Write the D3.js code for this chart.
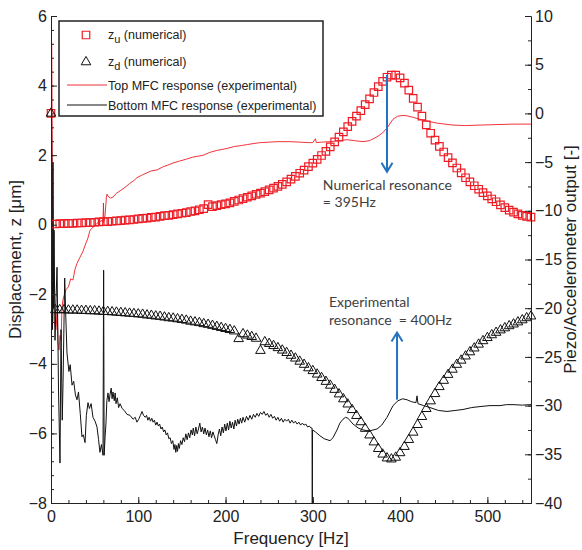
<!DOCTYPE html>
<html>
<head>
<meta charset="utf-8">
<script src="https://cdn.jsdelivr.net/npm/d3@7"></script>
<style>
  body { margin: 0; background: #fff; }
  svg text { font-family: "Liberation Sans", Arial, sans-serif; }
  svg text.note { font-family: Lato, "Open Sans", sans-serif; }
</style>
</head>
<body>
<div id="chart"></div>
<script>
const width = 582, height = 550;
const margin = { top: 16, right: 51, bottom: 47, left: 51 };

// frequency grid of the numerical model [Hz]
const freq = [
  0, 5, 10, 15, 20, 25, 30, 35, 40, 45,
  50, 55, 60, 65, 70, 75, 80, 85, 90, 95,
  100, 105, 110, 115, 120, 125, 130, 135, 140, 145,
  150, 155, 160, 165, 170, 175, 180, 185, 190, 195,
  200, 205, 210, 215, 220, 225, 230, 235, 240, 245,
  250, 255, 260, 265, 270, 275, 280, 285, 290, 295,
  300, 305, 310, 315, 320, 325, 330, 335, 340, 345,
  350, 355, 360, 365, 370, 375, 380, 385, 390, 395,
  400, 405, 410, 415, 420, 425, 430, 435, 440, 445,
  450, 455, 460, 465, 470, 475, 480, 485, 490, 495,
  500, 505, 510, 515, 520, 525, 530, 535, 540, 545,
  550
];

// z_u (numerical) [um]
const zu = [
  3.2, 0.02, 0.03, 0.03, 0.04, 0.04, 0.05, 0.05, 0.06, 0.06,
  0.07, 0.08, 0.09, 0.09, 0.10, 0.11, 0.12, 0.13, 0.14, 0.15,
  0.17, 0.18, 0.19, 0.21, 0.22, 0.24, 0.26, 0.27, 0.29, 0.31,
  0.33, 0.35, 0.38, 0.40, 0.43, 0.46, 0.58, 0.52, 0.55, 0.58,
  0.60, 0.63, 0.67, 0.71, 0.75, 0.79, 0.83, 0.87, 0.91, 0.95,
  1.00, 1.05, 1.10, 1.16, 1.23, 1.31, 1.39, 1.48, 1.57, 1.67,
  1.77, 1.88, 1.99, 2.11, 2.24, 2.38, 2.52, 2.67, 2.82, 2.97,
  3.12, 3.28, 3.45, 3.62, 3.80, 3.97, 4.12, 4.24, 4.30, 4.30,
  4.22, 4.07, 3.87, 3.63, 3.38, 3.12, 2.87, 2.63, 2.43, 2.25,
  2.09, 1.93, 1.78, 1.63, 1.49, 1.35, 1.23, 1.12, 1.02, 0.92,
  0.83, 0.74, 0.66, 0.57, 0.49, 0.42, 0.36, 0.31, 0.27, 0.24,
  0.22
];

// z_d (numerical) [um]
const zd = [
  3.2, -2.45, -2.45, -2.45, -2.46, -2.46, -2.46, -2.47, -2.47, -2.48,
  -2.48, -2.49, -2.50, -2.50, -2.51, -2.52, -2.53, -2.54, -2.55, -2.56,
  -2.57, -2.58, -2.60, -2.61, -2.63, -2.64, -2.66, -2.68, -2.69, -2.71,
  -2.73, -2.75, -2.78, -2.80, -2.82, -2.85, -2.87, -2.90, -2.93, -2.96,
  -2.99, -3.02, -3.06, -3.28, -3.14, -3.18, -3.22, -3.27, -3.62, -3.37,
  -3.42, -3.48, -3.54, -3.61, -3.68, -3.76, -3.84, -3.93, -4.02, -4.12,
  -4.20, -4.30, -4.40, -4.51, -4.62, -4.74, -4.87, -5.01, -5.16, -5.32,
  -5.49, -5.67, -5.86, -6.05, -6.25, -6.44, -6.60, -6.71, -6.74, -6.69,
  -6.56, -6.38, -6.18, -5.97, -5.75, -5.52, -5.29, -5.07, -4.86, -4.66,
  -4.48, -4.31, -4.16, -4.02, -3.90, -3.78, -3.66, -3.55, -3.44, -3.34,
  -3.25, -3.17, -3.10, -3.03, -2.97, -2.91, -2.86, -2.80, -2.74, -2.68,
  -2.63
];

// Top MFC response (experimental): [Hz, output], right axis
const topResponse = [
  [0.8, 7.3], [1.1, 3.0], [1.4, -3.0], [1.8, -9.0], [2.3, -11.5], [2.8, -16.0], [3.4, -21.2], [4.5, -21.8],
  [5.7, -22.2], [7.0, -20.5], [8.0, -23.5], [9.2, -24.3], [10.3, -22.8], [11.5, -23.3], [12.6, -20.0], [13.8, -19.1],
  [15.5, -18.6], [17.2, -18.1], [20.0, -17.8], [22.5, -17.0], [25.2, -17.1], [27.5, -16.0], [29.8, -15.4], [33.0, -14.8],
  [36.5, -14.2], [40.1, -13.3], [42.0, -12.9], [44.7, -12.0], [47.0, -11.8], [49.3, -11.6], [52.5, -11.3], [56.1, -11.1],
  [58.5, -11.0], [59.6, -11.2], [60.1, -9.2], [60.6, -11.1], [62.0, -10.4], [63.5, -8.6], [64.2, -8.3], [65.3, -8.5],
  [68.0, -8.7], [71.0, -8.6], [75.0, -8.2], [80.0, -7.9], [84.8, -7.6], [90.0, -7.2], [95.0, -6.9], [98.5, -6.6],
  [105.0, -6.3], [110.0, -6.1], [115.0, -5.9], [121.5, -5.8], [128.0, -5.5], [134.0, -5.3], [139.8, -5.1], [147.0, -4.9],
  [155.0, -4.7], [162.0, -4.5], [168.0, -4.4], [174.2, -4.3], [182.0, -4.0], [190.0, -3.8], [196.0, -3.7], [201.7, -3.6],
  [210.0, -3.4], [218.0, -3.3], [225.0, -3.2], [231.5, -3.1], [240.0, -3.0], [250.0, -2.95], [260.0, -2.9], [273.9, -2.9],
  [285.0, -2.95], [295.0, -3.0], [300.0, -3.0], [303.0, -2.6], [304.0, -3.0], [310.0, -2.95], [319.7, -2.9], [330.0, -2.8],
  [339.2, -2.7], [348.0, -2.8], [357.5, -2.9], [365.0, -2.8], [373.6, -2.4], [380.0, -2.0], [385.0, -1.5], [391.9, -0.6],
  [397.0, -0.3], [403.3, -0.2], [408.0, -0.25], [414.8, -0.4], [426.3, -0.7], [442.3, -1.0], [460.6, -1.2], [475.0, -1.25],
  [491.6, -1.2], [510.0, -1.15], [529.4, -1.1], [550.0, -1.1]
];

// Bottom MFC response (experimental): [Hz, output], right axis
const bottomResponse = [
  [0.6, 0.0], [1.2, -10.0], [1.7, -22.2], [2.3, -5.0], [2.9, -20.0], [3.5, -12.0], [4.6, -23.3], [5.8, -19.0],
  [6.9, -15.8], [7.8, -22.0], [8.6, -28.4], [10.3, -35.9], [11.5, -22.2], [12.9, -31.5], [13.8, -27.7], [15.7, -16.9],
  [17.0, -21.0], [18.3, -24.6], [20.5, -26.5], [22.0, -25.8], [24.1, -27.9], [26.0, -27.5], [28.0, -28.9], [29.8, -29.4],
  [31.5, -28.6], [33.5, -30.8], [35.5, -33.2], [37.0, -33.0], [39.0, -33.8], [40.5, -31.0], [42.4, -29.7], [44.0, -30.3],
  [46.0, -29.8], [48.1, -31.2], [50.5, -31.6], [52.7, -32.2], [54.5, -33.5], [56.1, -34.8], [57.8, -34.0], [59.6, -35.1],
  [60.3, -16.1], [60.9, -35.1], [62.0, -33.2], [63.0, -31.8], [64.0, -29.5], [65.3, -28.7], [66.5, -29.6], [67.6, -28.9],
  [69.0, -28.2], [70.0, -29.3], [71.0, -28.6], [72.5, -29.5], [73.5, -28.7], [74.5, -29.8], [76.0, -29.2], [77.5, -30.2],
  [79.1, -29.8], [81.5, -30.3], [84.0, -30.5], [87.1, -30.9], [90.5, -31.0], [94.0, -31.4], [96.5, -31.2], [98.5, -31.7],
  [100.5, -31.4], [102.5, -31.0], [104.3, -30.6], [106.0, -31.0], [108.0, -31.2], [109.5, -31.0], [111.0, -31.5], [112.5, -31.2],
  [114.0, -31.6], [115.5, -31.3], [117.0, -31.7], [118.5, -31.5], [120.0, -32.0], [121.5, -31.7], [123.0, -32.1], [124.5, -31.9],
  [126.0, -32.4], [127.5, -32.2], [129.0, -32.7], [130.5, -32.5], [132.0, -33.0], [133.5, -32.8], [135.0, -33.4], [136.5, -33.3],
  [138.0, -33.9], [139.5, -33.6], [141.0, -34.5], [142.0, -34.0], [143.0, -34.8], [144.0, -34.1], [145.0, -34.7], [146.0, -33.9],
  [147.0, -34.4], [148.5, -33.6], [150.0, -34.0], [151.5, -33.3], [153.0, -33.7], [154.5, -32.9], [156.0, -33.5], [157.5, -32.8],
  [159.0, -33.3], [160.5, -32.5], [162.0, -33.0], [163.0, -32.3], [164.5, -33.1], [166.0, -32.2], [167.5, -32.9], [169.0, -32.4],
  [170.5, -31.8], [172.0, -32.7], [173.5, -32.2], [175.0, -32.9], [176.5, -32.3], [178.0, -33.0], [179.5, -32.5], [181.0, -33.2],
  [182.5, -32.6], [184.0, -33.3], [185.5, -32.7], [187.0, -33.1], [188.5, -33.5], [190.0, -33.9], [191.5, -33.0], [193.0, -32.4],
  [194.5, -33.1], [196.0, -32.2], [197.5, -32.8], [199.0, -31.9], [200.5, -32.6], [202.0, -31.8], [203.5, -32.5], [205.0, -31.6],
  [206.5, -32.3], [208.0, -31.7], [209.5, -32.4], [211.0, -31.5], [212.5, -32.1], [214.0, -31.4], [215.5, -31.9], [217.0, -31.3],
  [218.5, -31.8], [220.0, -31.2], [222.0, -31.7], [224.0, -31.1], [226.0, -31.5], [228.0, -31.0], [230.0, -31.4], [232.0, -30.9],
  [234.0, -31.2], [236.0, -30.8], [238.0, -31.1], [240.0, -30.7], [242.0, -30.9], [244.0, -30.6], [246.0, -31.0], [248.0, -30.8],
  [250.0, -31.2], [252.0, -30.9], [254.0, -31.3], [256.0, -31.1], [258.0, -31.5], [260.0, -31.2], [262.0, -31.6], [264.0, -31.3],
  [266.0, -31.7], [268.0, -31.4], [270.0, -31.6], [272.0, -31.4], [274.0, -31.8], [276.0, -31.5], [278.0, -31.8], [280.0, -31.6],
  [282.0, -31.9], [284.0, -31.7], [286.0, -32.0], [288.0, -31.8], [290.0, -32.0], [292.0, -31.9], [294.0, -32.2], [296.0, -32.1],
  [298.0, -32.3], [299.1, -32.3], [299.4, -40.0], [299.7, -32.5], [303.0, -32.7], [308.2, -33.1], [313.0, -33.4], [319.7, -33.6],
  [323.1, -33.3], [327.7, -32.5], [331.0, -31.8], [334.6, -31.4], [337.5, -31.2], [340.3, -31.3], [346.1, -31.9], [352.0, -32.3],
  [357.5, -32.5], [365.0, -32.6], [373.6, -32.4], [379.0, -32.0], [385.0, -31.2], [391.9, -30.0], [397.6, -29.5], [403.0, -29.3],
  [407.9, -29.4], [413.0, -29.6], [418.2, -29.7], [419.4, -29.0], [420.5, -29.8], [427.0, -30.0], [434.3, -30.2], [444.0, -30.5],
  [453.8, -30.6], [463.0, -30.5], [472.1, -30.4], [482.0, -30.2], [491.6, -30.1], [503.0, -30.0], [514.5, -30.0], [522.0, -29.9],
  [529.4, -29.9], [540.0, -29.95], [550.0, -29.9]
];

const xTicks = [0, 100, 200, 300, 400, 500];
const yLeftTicks = [-8, -6, -4, -2, 0, 2, 4, 6];
const yRightTicks = [-40, -35, -30, -25, -20, -15, -10, -5, 0, 5, 10];

// annotation arrows: [freq, from z, to z] (left axis units)
const numArrow = [385, 4.31, 1.52];
const expArrow = [396.5, -5.03, -3.1];

const legendLabels = ["(numerical)", "(numerical)", "Top MFC response (experimental)", "Bottom MFC response (experimental)"];

const red = "#ee1c25";
const blue = "#2372c0";

const svg = d3.select("#chart").append("svg")
  .attr("width", width)
  .attr("height", height);

const x = d3.scaleLinear().domain([0, 550]).range([margin.left, width - margin.right]);
const yL = d3.scaleLinear().domain([-8, 6]).range([height - margin.bottom, margin.top]);
const yR = d3.scaleLinear().domain([-40, 10]).range([height - margin.bottom, margin.top]);

const lineR = d3.line().x(d => x(d[0])).y(d => yR(d[1]));

svg.append("path")
  .datum(topResponse)
  .attr("d", lineR)
  .attr("fill", "none")
  .attr("stroke", red)
  .attr("stroke-width", 0.9);

svg.append("path")
  .datum(bottomResponse)
  .attr("d", lineR)
  .attr("fill", "none")
  .attr("stroke", "#111")
  .attr("stroke-width", 1);

// numerical markers
const sq = d3.symbol().type(d3.symbolSquare).size(56);
const tri = d3.symbol().type(d3.symbolTriangle).size(40);

svg.append("g").selectAll("path")
  .data(freq)
  .join("path")
  .attr("d", sq)
  .attr("transform", (f, i) => "translate(" + x(f) + "," + yL(zu[i]) + ")")
  .attr("fill", "none")
  .attr("stroke", red)
  .attr("stroke-width", 1.2);

svg.append("g").selectAll("path")
  .data(freq)
  .join("path")
  .attr("d", tri)
  .attr("transform", (f, i) => "translate(" + x(f) + "," + yL(zd[i]) + ")")
  .attr("fill", "none")
  .attr("stroke", "#111")
  .attr("stroke-width", 1);

// axes (ticks point inwards)
function styleAxis(g) {
  g.selectAll("text").attr("font-size", 16).attr("fill", "#222");
  g.selectAll("line, path").attr("stroke", "#222");
}

svg.append("g")
  .attr("transform", "translate(0," + (height - margin.bottom) + ")")
  .call(d3.axisBottom(x).tickValues(d3.range(0, 551, 20)).tickFormat("").tickSize(-3).tickSizeOuter(0))
  .call(styleAxis);
svg.append("g")
  .attr("transform", "translate(0," + (height - margin.bottom) + ")")
  .call(d3.axisBottom(x).tickValues(xTicks).tickSize(-6).tickSizeOuter(0).tickPadding(8))
  .call(styleAxis);

svg.append("g")
  .attr("transform", "translate(" + margin.left + ",0)")
  .call(d3.axisLeft(yL).tickValues(d3.range(-8, 6.01, 0.4)).tickFormat("").tickSize(-3).tickSizeOuter(0))
  .call(styleAxis);
svg.append("g")
  .attr("transform", "translate(" + margin.left + ",0)")
  .call(d3.axisLeft(yL).tickValues(yLeftTicks).tickSize(-6).tickSizeOuter(0).tickPadding(4))
  .call(styleAxis);

svg.append("g")
  .attr("transform", "translate(" + (width - margin.right) + ",0)")
  .call(d3.axisRight(yR).tickValues(d3.range(-40, 10.01, 2.5)).tickFormat("").tickSize(-3).tickSizeOuter(0))
  .call(styleAxis);
svg.append("g")
  .attr("transform", "translate(" + (width - margin.right) + ",0)")
  .call(d3.axisRight(yR).tickValues(yRightTicks).tickSize(-6).tickSizeOuter(0).tickPadding(4))
  .call(styleAxis);

// axis titles
const midY = (margin.top + height - margin.bottom) / 2;
svg.append("text")
  .attr("transform", "translate(21," + midY + ") rotate(-90)")
  .attr("text-anchor", "middle")
  .attr("font-size", 17)
  .attr("fill", "#222")
  .text("Displacement, z [\u03bcm]");

svg.append("text")
  .attr("transform", "translate(576," + midY + ") rotate(-90)")
  .attr("text-anchor", "middle")
  .attr("font-size", 17)
  .attr("fill", "#222")
  .text("Piezo/Accelerometer output [-]");

svg.append("text")
  .attr("x", (margin.left + width - margin.right) / 2)
  .attr("y", 544)
  .attr("text-anchor", "middle")
  .attr("font-size", 17)
  .attr("fill", "#222")
  .text("Frequency [Hz]");

// resonance arrows
function arrow(a, headAtTop) {
  const ax = x(a[0]), y1 = yL(a[1]), y2 = yL(a[2]);
  const tipY = headAtTop ? Math.min(y1, y2) : Math.max(y1, y2);
  const dir = headAtTop ? 1 : -1;
  svg.append("line")
    .attr("x1", ax).attr("x2", ax).attr("y1", y1).attr("y2", y2)
    .attr("stroke", blue).attr("stroke-width", 2);
  svg.append("path")
    .attr("d", "M" + (ax - 5.5) + "," + (tipY + dir * 9) + "L" + ax + "," + tipY + "L" + (ax + 5.5) + "," + (tipY + dir * 9))
    .attr("fill", "none").attr("stroke", blue).attr("stroke-width", 2);
}
arrow(numArrow, false);
arrow(expArrow, true);

function note(f, z, s) {
  svg.append("text")
    .attr("class", "note")
    .attr("x", x(f)).attr("y", yL(z))
    .attr("font-size", 14)
    .attr("fill", "#404040")
    .attr("xml:space", "preserve")
    .text(s);
}
note(311.5, 1.0, "Numerical resonance");
note(311.5, 0.52, "= 395Hz");
note(318.5, -2.36, "Experimental");
note(318.5, -2.87, "resonance  = 400Hz");

// legend
const lg = svg.append("g");
lg.append("rect")
  .attr("x", 59).attr("y", 21).attr("width", 264).attr("height", 95)
  .attr("fill", "#fff").attr("stroke", "#222").attr("stroke-width", 1.5);

const rowY = [35, 62, 85, 105];
lg.append("path").attr("d", sq).attr("transform", "translate(86," + rowY[0] + ")")
  .attr("fill", "none").attr("stroke", red).attr("stroke-width", 1.2);
lg.append("path").attr("d", tri).attr("transform", "translate(86," + rowY[1] + ")")
  .attr("fill", "none").attr("stroke", "#111").attr("stroke-width", 1);
lg.append("line").attr("x1", 67).attr("x2", 107).attr("y1", rowY[2]).attr("y2", rowY[2])
  .attr("stroke", red).attr("stroke-width", 0.9);
lg.append("line").attr("x1", 67).attr("x2", 107).attr("y1", rowY[3]).attr("y2", rowY[3])
  .attr("stroke", "#111").attr("stroke-width", 1);

["u", "d"].forEach((sub, i) => {
  const t = lg.append("text").attr("x", 108).attr("y", rowY[i] + 4).attr("font-size", 12.5).attr("fill", "#222");
  t.append("tspan").text("z");
  t.append("tspan").attr("dy", 4).attr("font-size", 11).text(sub);
  t.append("tspan").attr("dy", -4).text(" " + legendLabels[i]);
});
[2, 3].forEach(i => {
  lg.append("text").attr("x", 108).attr("y", rowY[i] + 4.5).attr("font-size", 12.5).attr("fill", "#222")
    .text(legendLabels[i]);
});
</script>
</body>
</html>
